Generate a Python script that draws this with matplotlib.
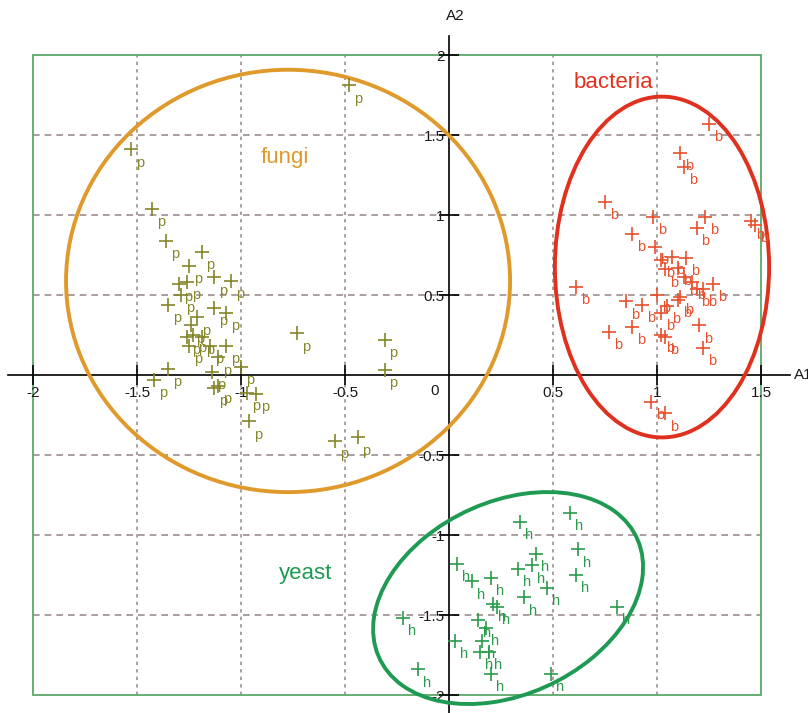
import matplotlib.pyplot as plt
from matplotlib.patches import Ellipse, Rectangle

plt.rcParams['font.family'] = ['Liberation Sans', 'DejaVu Sans']

# fungi samples (letter p)
fungi_x = [-1.53, -0.48, -1.43, -1.36, -1.19, -1.25, -1.13, -1.05, -1.26, -1.30,
           -1.29, -1.35, -1.13, -1.07, -1.21, -1.24, -1.26, -1.23, -1.19, -1.25,
           -1.15, -1.07, -1.11, -1.35, -1.42, -1.14, -1.13, -1.11, -1.00, -0.97,
           -0.93, -0.96, -0.73, -0.31, -0.31, -0.55, -0.44]
fungi_y = [1.41, 1.81, 1.04, 0.84, 0.77, 0.68, 0.61, 0.59, 0.58, 0.57,
           0.50, 0.44, 0.42, 0.39, 0.36, 0.31, 0.24, 0.25, 0.24, 0.18,
           0.18, 0.18, 0.11, 0.04, -0.03, 0.02, -0.08, -0.07, 0.05, -0.11,
           -0.12, -0.29, 0.26, 0.22, 0.03, -0.41, -0.39]

# bacteria samples (letter b)
bact_x = [1.25, 1.11, 1.13, 0.75, 0.98, 1.23, 1.19, 1.45, 1.47, 0.88,
          0.99, 1.02, 1.07, 1.14, 1.04, 1.10, 1.13, 1.17, 1.19, 1.22,
          1.27, 0.61, 1.00, 0.85, 0.93, 1.02, 1.05, 1.10, 1.11, 0.88,
          0.77, 1.02, 1.04, 1.20, 1.22, 0.97, 1.04]
bact_y = [1.57, 1.39, 1.30, 1.08, 0.99, 0.99, 0.92, 0.96, 0.94, 0.88,
          0.80, 0.72, 0.74, 0.73, 0.66, 0.67, 0.61, 0.58, 0.54, 0.54,
          0.57, 0.55, 0.50, 0.46, 0.44, 0.39, 0.43, 0.47, 0.49, 0.30,
          0.27, 0.25, 0.24, 0.31, 0.17, -0.17, -0.24]

# yeast samples (letter h)
yeast_x = [0.58, 0.34, 0.62, 0.42, 0.40, 0.33, 0.04, 0.61, 0.47, 0.36,
           0.20, 0.11, 0.21, 0.23, 0.81, 0.14, 0.18, 0.03, 0.16, 0.15,
           0.19, 0.20, 0.49, -0.22, -0.15]
yeast_y = [-0.86, -0.92, -1.09, -1.12, -1.19, -1.21, -1.18, -1.25, -1.33, -1.39,
           -1.27, -1.29, -1.43, -1.45, -1.45, -1.53, -1.58, -1.66, -1.66, -1.73,
           -1.73, -1.87, -1.87, -1.52, -1.84]

groups = [
    (fungi_x, fungi_y, 'p', '#85852a'),
    (bact_x, bact_y, 'b', '#e8502e'),
    (yeast_x, yeast_y, 'h', '#2a9a4c'),
]

# cluster ellipses: center, width, height, angle
ellipses = [
    ((-0.774, 0.588), 2.135, 2.64, 0, '#e09a2c'),
    ((1.024, 0.675), 1.03, 2.13, 0, '#e0301e'),
    ((0.284, -1.394), 1.492, 1.102, 47, '#1f9a52'),
]
cluster_names = [('fungi', -0.79, 1.36, '#e09a2c'),
                 ('bacteria', 0.79, 1.83, '#e0301e'),
                 ('yeast', -0.69, -1.24, '#1f9a52')]

fig = plt.figure(figsize=(8.08, 7.13), dpi=100)
ax = fig.add_axes([0, 0, 1, 1])
ax.set_xlim(-2.159, 1.726)
ax.set_ylim(-2.1125, 2.344)

grid_col = '#9c8e8e'
for gx in [-1.5, -1, -0.5, 0.5, 1]:
    ax.plot([gx, gx], [-2, 2], color=grid_col, lw=1.2, ls=(0, (2, 2.5)), zorder=1)
for gy in [-1.5, -1, -0.5, 0.5, 1, 1.5]:
    ax.plot([-2, 1.5], [gy, gy], color=grid_col, lw=1.2, ls=(0, (4, 3)), zorder=1)
ax.add_patch(Rectangle((-2, -2), 3.5, 4, fill=False, ec='#5aa868', lw=1.3, zorder=1))

for spine in ['top', 'right']:
    ax.spines[spine].set_visible(False)
ax.spines['left'].set_position(('data', 0))
ax.spines['bottom'].set_position(('data', 0))
ax.spines['left'].set_bounds(-2.1125, 2.12)
ax.spines['bottom'].set_bounds(-2.12, 1.64)
for spine in ['left', 'bottom']:
    ax.spines[spine].set_linewidth(1.2)
    ax.spines[spine].set_zorder(2)

xt = [-2, -1.5, -1, -0.5, 0.5, 1, 1.5]
yt = [-2, -1.5, -1, -0.5, 0.5, 1, 1.5, 2]
ax.set_xticks(xt)
ax.set_xticklabels(['-2', '-1.5', '-1', '-0.5', '0.5', '1', '1.5'])
ax.set_yticks(yt)
ax.set_yticklabels(['-2', '-1.5', '-1', '-0.5', '0.5', '1', '1.5', '2'])
ax.tick_params(direction='inout', length=14, width=1.2, labelsize=11,
               labelcolor='#1a1a1a', pad=1)
ax.tick_params(axis='y', pad=-4)
ax.text(-0.07, -0.1, '0', fontsize=11, color='#1a1a1a', ha='center', va='center')
ax.text(0.03, 2.2, 'A2', fontsize=11, color='#1a1a1a', ha='center', va='bottom')
ax.text(1.66, 0, 'A1', fontsize=11, color='#1a1a1a', ha='left', va='center')

for (cx, cy), w, h, ang, col in ellipses:
    ax.add_patch(Ellipse((cx, cy), w, h, angle=ang, fill=False, ec=col, lw=2.8, zorder=3))

for name, tx, ty, col in cluster_names:
    ax.text(tx, ty, name, fontsize=16, color=col, ha='center', va='center')

for xs, ys, letter, col in groups:
    ax.plot(xs, ys, '+', color=col, ms=10, mew=1.2, zorder=4)
    for x, y in zip(xs, ys):
        ax.annotate(letter, (x, y), xytext=(6.5, -9.5), textcoords='offset points',
                    ha='center', va='center', fontsize=10.5, color=col, zorder=4)

fig.savefig('out.png', dpi=100, facecolor='white')
